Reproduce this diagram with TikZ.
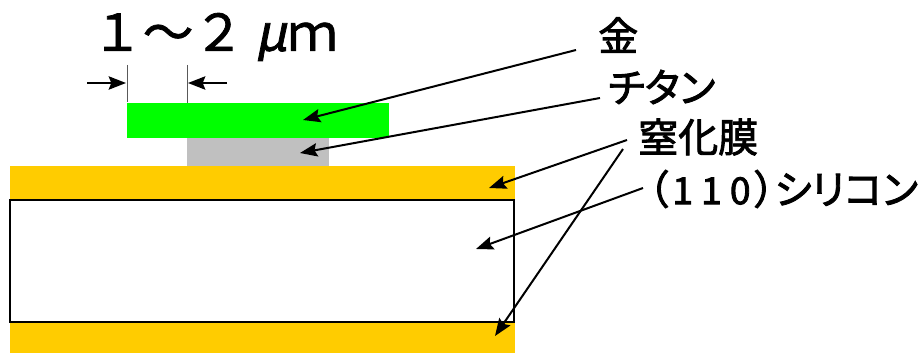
\documentclass[tikz,border=0pt]{standalone}
\usepackage{fontspec}
\newfontfamily\jpfont[FakeBold=1.5]{Noto Sans CJK JP}
\newfontfamily\jpslant[FakeBold=1.5, FakeSlant=0.2]{Noto Sans CJK JP}
\newfontfamily\jppfont[FakeBold=2.2, RawFeature=+palt]{Noto Sans CJK JP}
\usetikzlibrary{arrows.meta}

\definecolor{nitridecol}{HTML}{FFCC00}
\definecolor{goldcol}{HTML}{00FF00}
\definecolor{titancol}{HTML}{C0C0C0}

\newcommand{\digitbox}[1]{\makebox[0.72em]{\fontsize{28}{28}\selectfont #1}}

\begin{document}
\begin{tikzpicture}[x=0.75pt, y=-0.75pt,
    lbl/.style={font=\jppfont\fontsize{30}{30}\selectfont, inner sep=0pt, anchor=west},
    ptr/.style={-{Stealth[length=13pt, width=10pt, inset=2pt]}, line width=1.5pt},
    dimtick/.style={gray!70!black, line width=0.7pt}]
  \useasboundingbox (0,0) rectangle (924,353);

  % layers
  \fill[nitridecol] (10,166) rectangle (515,353);
  \draw[line width=1.5pt, fill=white] (10,200) rectangle (514,322);
  \fill[titancol] (187,138) rectangle (329,166);
  \fill[goldcol] (127,103) rectangle (389,138);

  % width of the overhang
  \draw[dimtick] (127,65) -- (127,102);
  \draw[dimtick] (187,65) -- (187,103);
  \node[font=\jpfont\fontsize{38}{38}\selectfont, inner sep=0pt] (width) at (215,37) {１～２ {\jpslant μ}ｍ};
  \coordinate (dimL) at (87,83);
  \coordinate (dimLtip) at (126,83);
  \coordinate (dimR) at (227,83);
  \coordinate (dimRtip) at (188,83);
  \draw[ptr] (dimL) -- (dimLtip);
  \draw[ptr] (dimR) -- (dimRtip);

  % labels
  \node[lbl] (kin) at (598,35) {金};
  \node[lbl] (titan) at (608,87) {チタン};
  \node[lbl] (nitride) at (638,137) {窒化膜};
  \node[lbl] (silicon) at (648,189) {（\digitbox{1}\digitbox{1}\digitbox{0}）シリコン};

  \coordinate (goldtip) at (303,120);
  \coordinate (titantip) at (300,153);
  \coordinate (toptip) at (489,188);
  \coordinate (bottip) at (495,336);
  \coordinate (sitip) at (476,249);

  \draw[ptr] ([shift={(-22,15)}]kin.west) -- (goldtip);
  \draw[ptr] ([shift={(-8,11)}]titan.west) -- (titantip);
  \draw[ptr] ([shift={(-11,3)}]nitride.west) -- (toptip);
  \draw[ptr] ([shift={(-15,12)}]nitride.west) -- (bottip);
  \draw[ptr] ([shift={(-5,-1)}]silicon.west) -- (sitip);
\end{tikzpicture}
\end{document}
